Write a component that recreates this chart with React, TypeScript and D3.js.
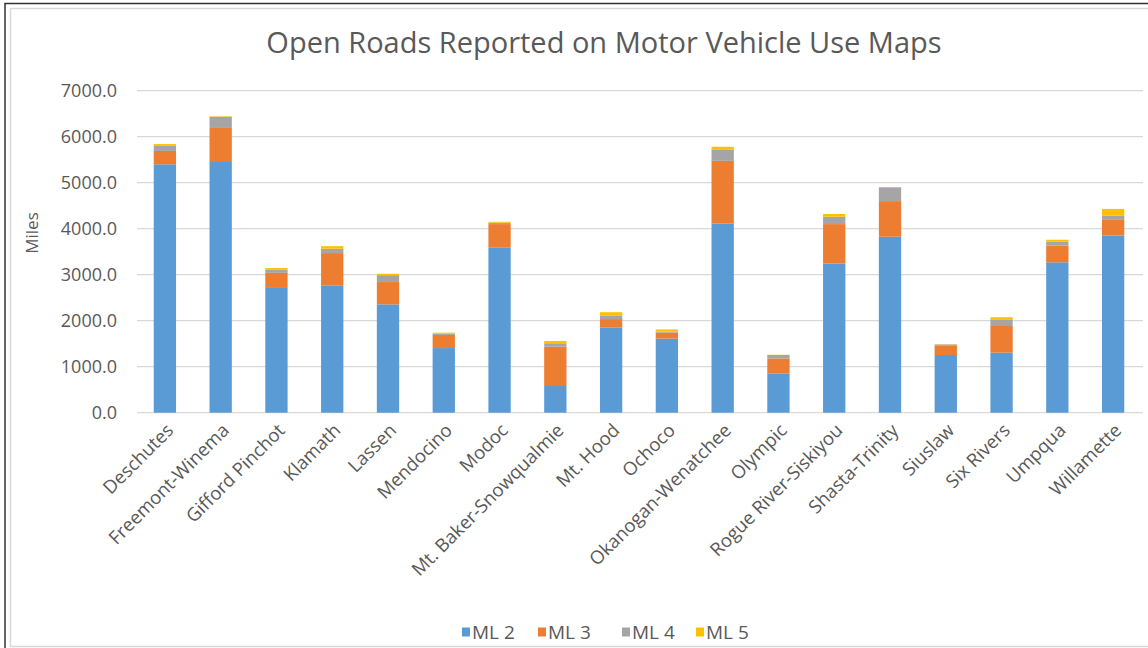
import React from "react";
import * as d3 from "d3";

const categories = [
  "Deschutes", "Freemont-Winema", "Gifford Pinchot", "Klamath", "Lassen", "Mendocino",
  "Modoc", "Mt. Baker-Snowqualmie", "Mt. Hood", "Ochoco", "Okanogan-Wenatchee", "Olympic",
  "Rogue River-Siskiyou", "Shasta-Trinity", "Siuslaw", "Six Rivers", "Umpqua", "Willamette",
];
const ml2 = [5400, 5450, 2730, 2760, 2355, 1405, 3595, 580, 1855, 1610, 4115, 855, 3240, 3825, 1255, 1305, 3270, 3850];
const ml3 = [290, 740, 310, 710, 485, 285, 505, 855, 180, 130, 1360, 325, 860, 775, 210, 580, 360, 355];
const ml4 = [110, 245, 75, 95, 150, 30, 30, 75, 80, 20, 250, 75, 160, 300, 20, 145, 85, 75];
const ml5 = [40, 10, 30, 55, 30, 20, 20, 50, 70, 50, 55, 5, 60, 5, 5, 45, 45, 150];
const seriesNames = ["ML 2", "ML 3", "ML 4", "ML 5"];
const seriesColors = ["#5B9BD5", "#ED7D31", "#A5A5A5", "#FFC000"];
const yTicks = [0, 1000, 2000, 3000, 4000, 5000, 6000, 7000];
const title = "Open Roads Reported on Motor Vehicle Use Maps";
const yTitle = "Miles";

const FONT = "'Open Sans', 'Noto Sans', sans-serif";
const TEXT = "#595959";

export default function App() {
  const W = 1148, H = 648;
  const x = d3.scaleBand<string>().domain(categories).range([137, 1141]).paddingInner(0.6).paddingOuter(0.3);
  const y = d3.scaleLinear().domain([0, 7000]).range([412.7, 90.7]);

  const table = categories.map((c, i) => ({ cat: c, "ML 2": ml2[i], "ML 3": ml3[i], "ML 4": ml4[i], "ML 5": ml5[i] }));
  const stacked = d3.stack<any>().keys(seriesNames)(table);
  const fmt = d3.format(".1f");

  const legendX0 = 462;
  const legendStep = [0, 76, 160, 234];

  return (
    <svg width={W} height={H} style={{ position: "absolute", left: 0, top: 0, background: "#fff" }} fontFamily={FONT}>
      <rect x={0} y={0} width={W} height={H} fill="#fff" />
      <rect x={5} y={3.5} width={1160} height={660} fill="none" stroke="#333" strokeWidth={1.5} />
      <rect x={10.5} y={8.5} width={1150} height={638} fill="none" stroke="#D9D9D9" strokeWidth={1.5} />

      <text x={604} y={53} textAnchor="middle" fontSize={29} fill={TEXT}>{title}</text>

      {yTicks.map((t) => (
        <g key={t}>
          <line x1={137} x2={1143} y1={y(t)} y2={y(t)} stroke="#D9D9D9" strokeWidth={1.3} />
          <text x={117} y={y(t)} dy="0.35em" textAnchor="end" fontSize={18} fill={TEXT}>{fmt(t)}</text>
        </g>
      ))}

      <text transform={`translate(38,${233}) rotate(-90)`} textAnchor="middle" fontSize={17} fill={TEXT}>{yTitle}</text>

      {stacked.map((s, si) => (
        <g key={s.key} fill={seriesColors[si]}>
          {s.map((d, i) => (
            <rect key={i} x={x(categories[i])!} width={x.bandwidth()} y={y(d[1])} height={Math.max(0, y(d[0]) - y(d[1]))} />
          ))}
        </g>
      ))}

      {categories.map((c) => {
        const cx = x(c)! + x.bandwidth() / 2;
        return (
          <text key={c} transform={`translate(${cx + 5},${427}) rotate(-45)`} textAnchor="end" dy="0.35em" fontSize={18.5} fill={TEXT}>{c}</text>
        );
      })}

      {seriesNames.map((n, i) => (
        <g key={n} transform={`translate(${legendX0 + legendStep[i]},632)`}>
          <rect x={0} y={-4.5} width={8} height={9} fill={seriesColors[i]} />
          <text x={10} y={0} dy="0.35em" fontSize={19} fill={TEXT}>{n}</text>
        </g>
      ))}
    </svg>
  );
}
